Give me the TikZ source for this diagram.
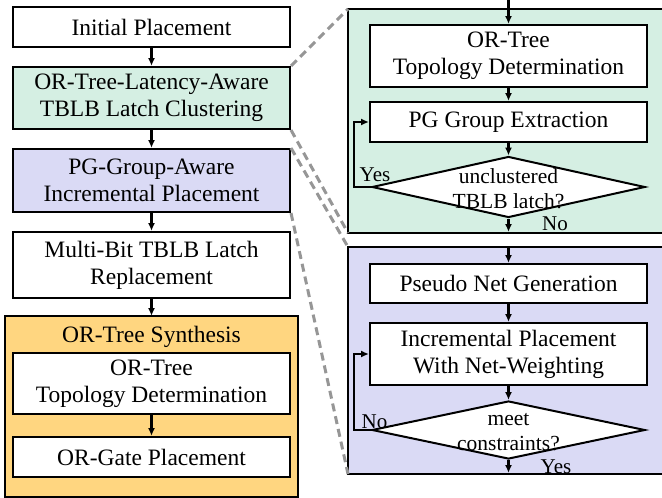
\documentclass[tikz,border=0pt]{standalone}
\usepackage{fontspec}
\setmainfont{Liberation Serif}
\usetikzlibrary{arrows.meta,shapes.geometric}
\definecolor{gfill}{RGB}{213,239,227}
\definecolor{pfill}{RGB}{218,218,245}
\definecolor{ofill}{RGB}{255,214,128}
\definecolor{dgray}{RGB}{150,150,150}
\begin{document}
\begin{tikzpicture}[x=1pt,y=-1pt,
 box/.style={draw=black,line width=2pt,fill=white,inner sep=0pt,minimum width=277pt,align=center,font=\fontsize{23.5}{27}\selectfont},
 dia/.style={draw=black,line width=2pt,fill=white,shape=diamond,inner sep=0pt,minimum width=273pt,minimum height=61pt},
 dtext/.style={inner sep=0pt,align=center,font=\fontsize{21.5}{25}\selectfont},
 lbl/.style={inner sep=0pt,font=\fontsize{21}{24}\selectfont},
 arr/.style={line width=2.2pt,-{Latex[length=8pt,width=7pt]}},
 zoomline/.style={draw=dgray,line width=3pt,dash pattern=on 8pt off 5pt},
 panel/.style={line width=2pt,draw=black}]
\useasboundingbox (0,0) rectangle (662,498);

% ---------- left column ----------
\node[box,minimum height=40pt] (n1) at (151.5,27) {Initial Placement};
\node[box,fill=gfill,minimum height=62pt] (n2) at (151.5,98) {OR-Tree-Latency-Aware\\TBLB Latch Clustering};
\node[box,fill=pfill,minimum height=63pt] (n3) at (151.5,180.5) {PG-Group-Aware\\Incremental Placement};
\node[box,minimum height=66pt] (n4) at (151.5,265) {Multi-Bit TBLB Latch\\Replacement};

\fill[ofill] (5,316) rectangle (298,497);
\draw[panel] (5,316) rectangle (298,497);
\node[lbl,anchor=base,font=\fontsize{23.5}{27}\selectfont] (ortitle) at (151.5,342) {OR-Tree Synthesis};
\node[box,minimum height=61pt] (n5) at (151.5,383.5) {OR-Tree\\Topology Determination};
\node[box,minimum height=40pt] (n6) at (151.5,457) {OR-Gate Placement};

\draw[arr] (n1) -- (n2);
\draw[arr] (n2) -- (n3);
\draw[arr] (n3) -- (n4);
\draw[arr] (n4.south) -- (ortitle.north |- 316,316);
\draw[arr] (n5) -- (n6);

% ---------- right panels ----------
\coordinate (gtl) at (348,9);
\coordinate (gbl) at (348,233);
\coordinate (ptl) at (348,247);
\coordinate (pbl) at (348,474);
\fill[gfill] (gtl) rectangle (662,233);
\draw[panel] (662,9) -- (gtl) -- (gbl) -- (662,233);
\fill[pfill] (ptl) rectangle (662,474);
\draw[panel] (662,247) -- (ptl) -- (pbl) -- (662,474);

% green panel content
\coordinate (gin) at (508.5,0);
\coordinate (gout) at (508.5,232);
\node[box,minimum height=62pt] (r1) at (508.5,56) {OR-Tree\\Topology Determination};
\node[box,minimum height=40pt] (r2) at (508.5,122) {PG Group Extraction};
\node[dia] (d1) at (508.5,187) {};
\node[dtext] (d1t) at (508.5,189) {unclustered\\TBLB latch?};
\draw[arr] (gin) -- (r1);
\draw[arr] (r1) -- (r2);
\draw[arr] (r2) -- (d1);
\draw[arr] (d1.south) -- (gout);
\draw[arr] (d1.west) -- ++(-17,0) |- (r2.west);
\node[lbl] (yes1) at (375,175) {Yes};
\node[lbl] (no1) at (555,224) {No};

% purple panel content
\coordinate (pin) at (508.5,247);
\coordinate (pout) at (508.5,473);
\node[box,minimum height=39pt] (r3) at (508.5,283.5) {Pseudo Net Generation};
\node[box,minimum height=62pt] (r4) at (508.5,354) {Incremental Placement\\With Net-Weighting};
\node[dia,minimum height=58pt] (d2) at (508.5,430) {};
\node[dtext] (d2t) at (508.5,432) {meet\\constraints?};
\draw[arr] (pin) -- (r3);
\draw[arr] (r3) -- (r4);
\draw[arr] (r4) -- (d2);
\draw[arr] (d2.south) -- (pout);
\draw[arr] (d2.west) -- ++(-17,0) |- (r4.west);
\node[lbl] (no2) at (374.5,422) {No};
\node[lbl] (yes2) at (556,467) {Yes};

% ---------- zoom lines ----------
\draw[zoomline] (n2.north east) -- (gtl);
\draw[zoomline] (n2.south east) -- (gbl);
\draw[zoomline] (n3.north east) -- (ptl);
\draw[zoomline] (n3.south east) -- (pbl);
\end{tikzpicture}
\end{document}
